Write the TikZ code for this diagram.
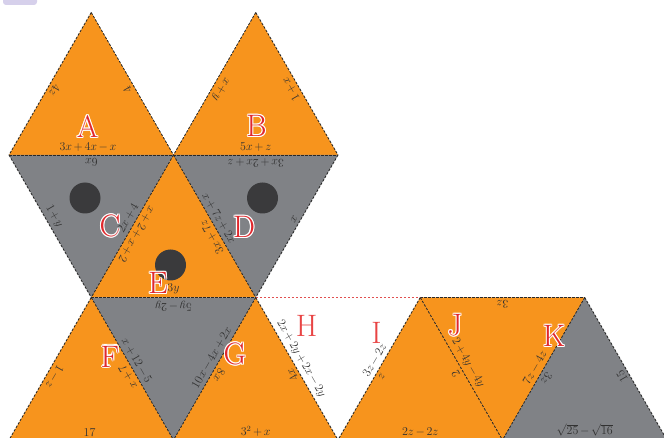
\documentclass[tikz,border=0pt]{standalone}
\usepackage{xcolor}
\definecolor{triorange}{RGB}{247,148,29}
\definecolor{trigray}{RGB}{128,130,134}
\definecolor{dotc}{RGB}{58,58,60}
\definecolor{edgec}{RGB}{40,40,40}
\definecolor{labc}{RGB}{50,50,50}
\definecolor{letred}{RGB}{224,40,45}
\definecolor{hired}{RGB}{232,68,68}
\definecolor{lav}{RGB}{214,208,235}
\definecolor{reddash}{RGB}{225,80,80}
\newcommand\labfont{\fontsize{11.5}{12.5}\selectfont\medmuskip=2.5mu plus 1mu minus 1mu}
\tikzset{
  edgeline/.style={draw=edgec, dash pattern=on 2.5pt off 1.5pt, line width=0.85pt},
  redline/.style={draw=reddash, dash pattern=on 2.5pt off 1.5pt, line width=0.85pt},
  orangefill/.style={fill=triorange},
  grayfill/.style={fill=trigray},
  elabel/.style={sloped, allow upside down, above=2.3pt, inner sep=1pt, text=labc, font=\labfont},
  halo/.style={text=white, font=\fontsize{31}{33}\selectfont\rmfamily, inner sep=0pt},
  bigletter/.style={text=letred, font=\fontsize{31}{33}\selectfont\rmfamily, inner sep=0pt},
  plainletter/.style={text=hired, font=\fontsize{31}{33}\selectfont\rmfamily, inner sep=0pt},
  dot/.style={circle, fill=dotc, minimum size=31pt, inner sep=0pt}
}
\newcommand\outletter[3]{%
  \foreach \dx/\dy [count=\k] in {1.1/0,-1.1/0,0/1.1,0/-1.1,0.8/0.8,-0.8/0.8,0.8/-0.8,-0.8/-0.8}
    {\node[halo] (#1h\k) at ([shift={(\dx,\dy)}]#2) {#3};}
  \node[bigletter] (#1) at (#2) {#3};}
\begin{document}
\begin{tikzpicture}[x=1pt,y=-1pt]
\useasboundingbox (0,0) rectangle (664,438);
% vertices
\coordinate (a0) at (91.25,12.5);
\coordinate (b0) at (255.75,12.5);
\coordinate (p1) at (9,155);
\coordinate (p2) at (173.5,155);
\coordinate (p3) at (338,155);
\coordinate (q1) at (91.25,297.5);
\coordinate (q2) at (255.75,297.5);
\coordinate (q3) at (420.25,297.5);
\coordinate (q4) at (584.75,297.5);
\coordinate (r1) at (9,440);
\coordinate (r2) at (173.5,440);
\coordinate (r3) at (338,440);
\coordinate (r4) at (502.5,440);
\coordinate (r5) at (667,440);
% lavender tab
\fill[lav, rounded corners=3pt] (3,-6) rectangle (37,5);
% fills
\fill[orangefill] (p1) -- (p2) -- (a0) -- cycle;
\fill[orangefill] (p2) -- (p3) -- (b0) -- cycle;
\fill[grayfill] (p2) -- (p1) -- (q1) -- cycle;
\fill[grayfill] (p3) -- (p2) -- (q2) -- cycle;
\fill[orangefill] (q1) -- (q2) -- (p2) -- cycle;
\fill[grayfill] (q2) -- (q1) -- (r2) -- cycle;
\fill[orangefill] (r1) -- (r2) -- (q1) -- cycle;
\fill[orangefill] (r2) -- (r3) -- (q2) -- cycle;
\fill[orangefill] (r3) -- (r4) -- (q3) -- cycle;
\fill[orangefill] (q4) -- (q3) -- (r4) -- cycle;
\fill[grayfill] (r4) -- (r5) -- (q4) -- cycle;
% dots
\node[dot] (dotC) at (85,198) {};
\node[dot] (dotD) at (262.5,198) {};
\node[dot] (dotE) at (170.5,265) {};
% edges
\path[edgeline] (p1) -- (p3);
\path[edgeline] (a0) -- (p1);
\path[edgeline] (a0) -- (p2);
\path[edgeline] (b0) -- (p2);
\path[edgeline] (b0) -- (p3);
\path[edgeline] (p1) -- (q1);
\path[edgeline] (p2) -- (q1);
\path[edgeline] (p2) -- (q2);
\path[edgeline] (p3) -- (q2);
\path[edgeline] (q1) -- (q2);
\path[edgeline] (q3) -- (q4);
\path[redline] (q2) -- (q3);
\path[edgeline] (q1) -- (r1);
\path[edgeline] (q1) -- (r2);
\path[edgeline] (q2) -- (r2);
\path[edgeline] (q2) -- (r3);
\path[edgeline] (q3) -- (r3);
\path[edgeline] (q3) -- (r4);
\path[edgeline] (q4) -- (r4);
\path[edgeline] (q4) -- (r5);
% edge labels: A
\path (p1) -- (p2) node[elabel, pos=0.48] (lA1) {$3x+4x-x$};
\path (p2) -- (a0) node[elabel, pos=0.48] (lA2) {$4$};
\path (a0) -- (p1) node[elabel, pos=0.52] (lA3) {$4z$};
% B
\path (p2) -- (p3) node[elabel, pos=0.5] (lB1) {$5x+z$};
\path (p3) -- (b0) node[elabel, pos=0.49] (lB2) {$1+x$};
\path (b0) -- (p2) node[elabel, pos=0.51] (lB3) {$x+y$};
% C
\path (p2) -- (p1) node[elabel, pos=0.5] (lC1) {$6x$};
\path (p1) -- (q1) node[elabel, pos=0.46] (lC2) {$1+y$};
\path (q1) -- (p2) node[elabel, pos=0.53] (lC3) {$2x+4$};
% D
\path (p3) -- (p2) node[elabel, pos=0.5] (lD1) {$3x+2x+z$};
\path (p2) -- (q2) node[elabel, pos=0.47] (lD2) {$x+7z+2x$};
\path (q2) -- (p3) node[elabel, pos=0.53] (lD3) {$x$};
% E
\path (q1) -- (q2) node[elabel, pos=0.5] (lE1) {$3y$};
\path (q2) -- (p2) node[elabel, pos=0.45] (lE2) {$3x+7z$};
\path (p2) -- (q1) node[elabel, pos=0.53] (lE3) {$x+2+x+2$};
% middle gray
\path (q2) -- (q1) node[elabel, pos=0.5] (lM1) {$5y-2y$};
\path (q1) -- (r2) node[elabel, pos=0.47] (lM2) {$x+12-5$};
\path (r2) -- (q2) node[elabel, pos=0.55] (lM3) {$10x-4x+2x$};
% F
\path (r1) -- (r2) node[elabel, pos=0.49] (lF1) {$17$};
\path (r2) -- (q1) node[elabel, pos=0.47] (lF2) {$x+7$};
\path (q1) -- (r1) node[elabel, pos=0.53] (lF3) {$1-z$};
% G
\path (r2) -- (r3) node[elabel, pos=0.5] (lG1) {$3^2+x$};
\path (r3) -- (q2) node[elabel, pos=0.48] (lG2) {$4x$};
\path (q2) -- (r2) node[elabel, pos=0.52] (lG3) {$8x$};
% H
\path (q2) -- (r3) node[elabel, pos=0.46] (lH1) {$2x+2y+2x-2y$};
\path (r3) -- (q3) node[elabel, pos=0.53] (lH2) {$3z-2z$};
% orange between H and J
\path (r3) -- (r4) node[elabel, pos=0.5] (lO1) {$2z-2z$};
\path (r4) -- (q3) node[elabel, pos=0.49] (lO2) {$2$};
\path (q3) -- (r3) node[elabel, pos=0.53] (lO3) {$z$};
% J
\path (q4) -- (q3) node[elabel, pos=0.5] (lJ1) {$3z$};
\path (q3) -- (r4) node[elabel, pos=0.49] (lJ2) {$2+4y-4y$};
\path (r4) -- (q4) node[elabel, pos=0.48] (lJ3) {$7z-4z$};
% K
\path (r4) -- (r5) node[elabel, pos=0.5] (lK1) {$\sqrt{25}-\sqrt{16}$};
\path (r5) -- (q4) node[elabel, pos=0.47] (lK2) {$15$};
\path (q4) -- (r4) node[elabel, pos=0.54] (lK3) {$3z$};
% big letters
\outletter{LA}{87.5,126.5}{A}
\outletter{LB}{256.5,126}{B}
\outletter{LC}{110,226}{C}
\outletter{LD}{244,227}{D}
\outletter{LE}{158,283}{E}
\outletter{LF}{110,356.5}{F}
\outletter{LG}{235,354}{G}
\outletter{LJ}{455,325}{J}
\outletter{LK}{554,336}{K}
\node[plainletter] (LH) at (306.5,326) {H};
\node[plainletter] (LI) at (376.5,333) {I};
\end{tikzpicture}
\end{document}
